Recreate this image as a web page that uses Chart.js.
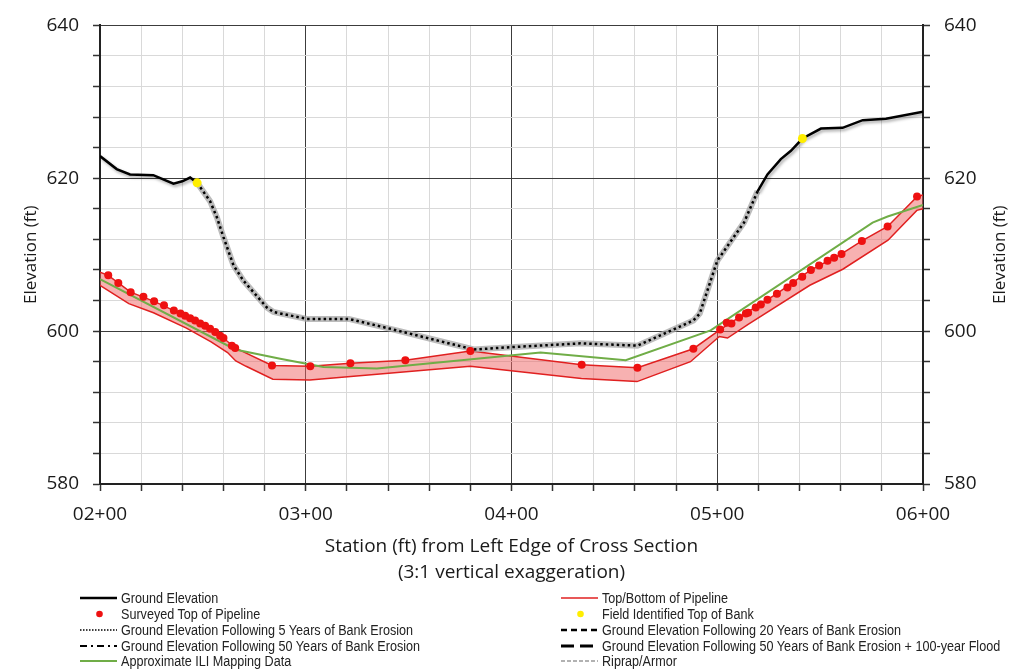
<!DOCTYPE html>
<html>
<head>
<meta charset="utf-8">
<script src="https://cdn.jsdelivr.net/npm/chart.js@4.4.0/dist/chart.umd.min.js"></script>
<style>
  body { margin: 0; background: #fff; }
  #wrap { position: relative; width: 1024px; height: 669px; }
  #legend { position: absolute; left: 0; top: 0; width: 1024px; height: 669px; pointer-events: none;
    font-family: 'Liberation Sans', sans-serif; font-size: 14px; color: #222; }
  .item { position: absolute; display: flex; align-items: center; height: 16px; white-space: nowrap; }
  .item svg { margin-right: 4px; flex: none; }
  .item span { display: inline-block; transform: scaleX(0.9); transform-origin: left center; }
</style>
</head>
<body>
<div id="wrap">
  <canvas id="chart" width="1024" height="669"></canvas>
  <div id="legend"></div>
</div>
<script>
// station (ft) / elevation (ft)
const surveyStation = [204.0, 208.9, 214.9, 221.1, 226.3, 231.1, 235.9, 239.1, 241.4, 243.8, 246.2, 248.7, 251.1, 253.5, 256.0, 258.4, 260.0, 264.1, 265.7, 283.6, 302.2, 321.7, 348.4, 380.0, 434.1, 461.2, 488.4, 501.4, 504.6, 506.9, 510.6, 513.9, 515.0, 518.7, 521.2, 524.4, 529.0, 534.1, 536.9, 541.3, 545.5, 549.5, 553.6, 556.8, 560.4, 570.3, 582.8, 597.1];
const surveyElev = [607.3, 606.3, 605.1, 604.5, 603.9, 603.4, 602.7, 602.3, 602.0, 601.7, 601.4, 601.0, 600.7, 600.3, 599.9, 599.4, 599.1, 598.1, 597.8, 595.5, 595.4, 595.8, 596.2, 597.4, 595.6, 595.2, 597.7, 600.2, 601.1, 601.0, 601.8, 602.3, 602.4, 603.1, 603.5, 604.1, 604.9, 605.7, 606.3, 607.1, 608.0, 608.6, 609.2, 609.6, 610.1, 611.8, 613.7, 617.6];

const bankStation = [247.2, 541.4];
const bankElev = [619.4, 625.2];

const groundStation = [200, 208.1, 214.6, 225.9, 235.7, 240, 243.8, 247.2, 400, 519.6, 524.4, 530.9, 535.8, 541.4, 550.4, 560.9, 570.7, 582.0, 600];
const groundElev = [622.9, 621.2, 620.5, 620.4, 619.3, 619.6, 620.1, 619.4, null, 618.3, 620.5, 622.5, 623.6, 625.2, 626.5, 626.6, 627.6, 627.8, 628.7];

const erosion5Station = [247.2, 253.5, 256.8, 260.0, 264.9, 269.7, 281.1, 284.3, 300.6, 320.9, 341.2, 360.6, 381.7, 399.6, 433.6, 461.2, 488.4, 491.5, 500.0, 508.0, 513.0, 519.6];
const erosion5Elev = [619.4, 617.0, 614.9, 612.3, 608.6, 606.6, 603.1, 602.5, 601.6, 601.6, 600.3, 599.0, 597.6, 597.9, 598.4, 598.1, 601.4, 602.3, 609.2, 612.3, 614.2, 618.3];

const iliStation = [200, 265.7, 287.6, 308.6, 334.6, 414.1, 455.5, 496.8, 575.5, 582.8, 600];
const iliElev = [606.8, 597.6, 596.4, 595.3, 595.1, 597.2, 596.2, 600.1, 614.2, 615.0, 616.5];

const pipeTopStation = [200, 204.0, 214.9, 226.3, 241.4, 253.5, 260.0, 265.7, 283.6, 302.2, 321.7, 348.4, 380.0, 434.1, 461.2, 488.4, 501.4, 510.6, 529.0, 545.5, 560.4, 570.3, 582.8, 597.1, 600];
const pipeTopElev = [607.7, 607.3, 605.1, 603.9, 602.0, 600.3, 599.1, 597.8, 595.5, 595.4, 595.8, 596.2, 597.4, 595.6, 595.2, 597.7, 600.2, 601.8, 604.9, 608.0, 610.1, 611.8, 613.7, 617.6, 617.8];

const pipeBotStation = [200, 214, 226, 242, 254, 262, 266, 271, 284, 302, 380, 434, 461, 487, 501, 505, 515, 545, 561, 583, 597, 600];
const pipeBotElev = [606.0, 603.6, 602.4, 600.4, 598.6, 597.2, 596.1, 595.4, 593.7, 593.6, 595.4, 593.8, 593.4, 596.0, 599.3, 599.1, 600.9, 606.0, 608.1, 611.9, 615.8, 616.0];

const stationTicks = [200, 300, 400, 500, 600];
const stationTickLabels = ['02+00', '03+00', '04+00', '05+00', '06+00'];
const elevTicks = [580, 600, 620, 640];

const pts = (xs, ys) => xs.map((x, i) => ({ x: x, y: ys[i] }));

const tickFont = { family: 'Open Sans', size: 19 };
const txt = '#1a1a1a';
const majorX = v => stationTicks.includes(v);
const majorY = v => elevTicks.includes(v);

// right-hand axis title reads bottom-to-top like the left one
const rightTitle = {
  id: 'rightTitle',
  afterDraw(chart) {
    const ctx = chart.ctx;
    const a = chart.chartArea;
    ctx.save();
    ctx.translate(chart.scales.y2.right - 24, (a.top + a.bottom) / 2);
    ctx.rotate(-Math.PI / 2);
    ctx.font = '17px "Open Sans"';
    ctx.fillStyle = txt;
    ctx.textAlign = 'center';
    ctx.textBaseline = 'middle';
    ctx.fillText('Elevation (ft)', 0, 0);
    ctx.restore();
  }
};

// soft drop shadow on the ground line, as in the spreadsheet original
const lineShadow = {
  id: 'lineShadow',
  beforeDatasetDraw(chart, args) {
    if (!chart.data.datasets[args.index].shadow) return;
    const ctx = chart.ctx;
    ctx.save();
    ctx.shadowColor = 'rgba(0,0,0,0.35)';
    ctx.shadowBlur = 3;
    ctx.shadowOffsetX = 1.5;
    ctx.shadowOffsetY = 2;
  },
  afterDatasetDraw(chart, args) {
    if (chart.data.datasets[args.index].shadow) chart.ctx.restore();
  }
};

const yTicks = {
  stepSize: 4, padding: 14, color: txt, font: tickFont, autoSkip: false,
  callback: v => majorY(v) ? String(v) : ''
};

new Chart(document.getElementById('chart'), {
  type: 'line',
  data: {
    datasets: [
      { label: 'Surveyed Top of Pipeline', data: pts(surveyStation, surveyElev), showLine: false,
        pointRadius: 4, pointBackgroundColor: '#ee1111', pointBorderWidth: 0 },
      { label: 'Field Identified Top of Bank', data: pts(bankStation, bankElev), showLine: false,
        pointRadius: 4.5, pointBackgroundColor: '#ffee00', pointBorderWidth: 0 },
      { label: 'Ground Elevation', data: pts(groundStation, groundElev), borderColor: '#000',
        borderWidth: 2.5, pointRadius: 0, spanGaps: false, shadow: true },
      { label: 'Ground Elevation Following 5 Years of Bank Erosion', data: pts(erosion5Station, erosion5Elev),
        borderColor: '#000', borderWidth: 2.5, borderDash: [2.5, 3], pointRadius: 0 },
      { label: 'shade', data: pts(erosion5Station, erosion5Elev), borderColor: 'rgba(165,165,165,0.75)',
        borderWidth: 6, pointRadius: 0 },
      { label: 'Approximate ILI Mapping Data', data: pts(iliStation, iliElev), borderColor: '#70ad47',
        borderWidth: 2, pointRadius: 0 },
      { label: 'Top of Pipeline', data: pts(pipeTopStation, pipeTopElev), borderColor: '#e02020',
        borderWidth: 1.5, pointRadius: 0 },
      { label: 'Bottom of Pipeline', data: pts(pipeBotStation, pipeBotElev), borderColor: '#e02020',
        borderWidth: 1.5, pointRadius: 0, fill: '-1', backgroundColor: 'rgba(240,100,100,0.5)' }
    ]
  },
  options: {
    responsive: false,
    animation: false,
    elements: { line: { tension: 0 } },
    layout: { padding: { top: 24, bottom: 83, left: 0, right: 0 } },
    plugins: { legend: { display: false }, tooltip: { enabled: false } },
    scales: {
      x: {
        type: 'linear', position: 'bottom', min: 200, max: 600,
        ticks: { stepSize: 20, autoSkip: false, maxRotation: 0, padding: 12, color: txt, font: tickFont,
          callback: v => { const i = stationTicks.indexOf(v); return i >= 0 ? stationTickLabels[i] : ''; } },
        grid: { color: c => majorX(c.tick.value) ? '#3c3c3c' : '#d9d9d9', lineWidth: 1,
          tickColor: '#333', tickLength: 7, tickWidth: 1.5 },
        border: { color: '#222', width: 2 },
        title: { display: true, color: txt, padding: 0,
          text: ['Station (ft) from Left Edge of Cross Section', '(3:1 vertical exaggeration)'],
          font: { family: 'Open Sans', size: 19, lineHeight: 1.4 } },
        afterFit: s => { s.height = 102; }
      },
      y: {
        type: 'linear', position: 'left', min: 580, max: 640,
        ticks: yTicks,
        grid: { color: c => majorY(c.tick.value) ? '#3c3c3c' : '#d9d9d9', lineWidth: 1,
          tickColor: '#333', tickLength: 7, tickWidth: 1.5 },
        border: { color: '#222', width: 2 },
        title: { display: true, text: 'Elevation (ft)', color: txt, padding: { top: 21, bottom: 0 },
          font: { family: 'Open Sans', size: 17 } },
        afterFit: s => { s.width = 100; }
      },
      y2: {
        type: 'linear', position: 'right', min: 580, max: 640,
        ticks: yTicks,
        grid: { drawOnChartArea: false, tickColor: '#333', tickLength: 7, tickWidth: 1.5 },
        border: { color: '#222', width: 2 },
        afterFit: s => { s.width = 101; }
      }
    }
  },
  plugins: [rightTitle, lineShadow]
});

// legend, laid out in two columns like the original
const legendItems = [
  ['Ground Elevation', 0, 0, 'line', '#000', 2.5, ''],
  ['Surveyed Top of Pipeline', 0, 1, 'dot', '#ee1111'],
  ['Ground Elevation Following 5 Years of Bank Erosion', 0, 2, 'line', '#000', 1.5, '1.5,1.5'],
  ['Ground Elevation Following 50 Years of Bank Erosion', 0, 3, 'line', '#000', 2, '7,4,2,4'],
  ['Approximate ILI Mapping Data', 0, 4, 'line', '#70ad47', 2, ''],
  ['Top/Bottom of Pipeline', 1, 0, 'line', '#e02020', 1.5, ''],
  ['Field Identified Top of Bank', 1, 1, 'dot', '#ffee00'],
  ['Ground Elevation Following 20 Years of Bank Erosion', 1, 2, 'line', '#000', 2.5, '6,4'],
  ['Ground Elevation Following 50 Years of Bank Erosion + 100-year Flood', 1, 3, 'line', '#000', 3, '13,6'],
  ['Riprap/Armor', 1, 4, 'line', '#999', 1.5, '4,2']
];
const legendRowY = [598, 614, 630, 646, 661];
const legendColX = [80, 561];
const legendEl = document.getElementById('legend');
legendItems.forEach(([label, col, row, kind, color, w, dash]) => {
  const d = document.createElement('div');
  d.className = 'item';
  d.style.left = legendColX[col] + 'px';
  d.style.top = (legendRowY[row] - 8) + 'px';
  const mark = kind === 'dot'
    ? `<circle cx="19.5" cy="5" r="3.3" fill="${color}"/>`
    : `<line x1="0" y1="5" x2="37" y2="5" stroke="${color}" stroke-width="${w}" stroke-dasharray="${dash}"/>`;
  d.innerHTML = `<svg width="37" height="10">${mark}</svg><span>${label}</span>`;
  legendEl.appendChild(d);
});
</script>
</body>
</html>
